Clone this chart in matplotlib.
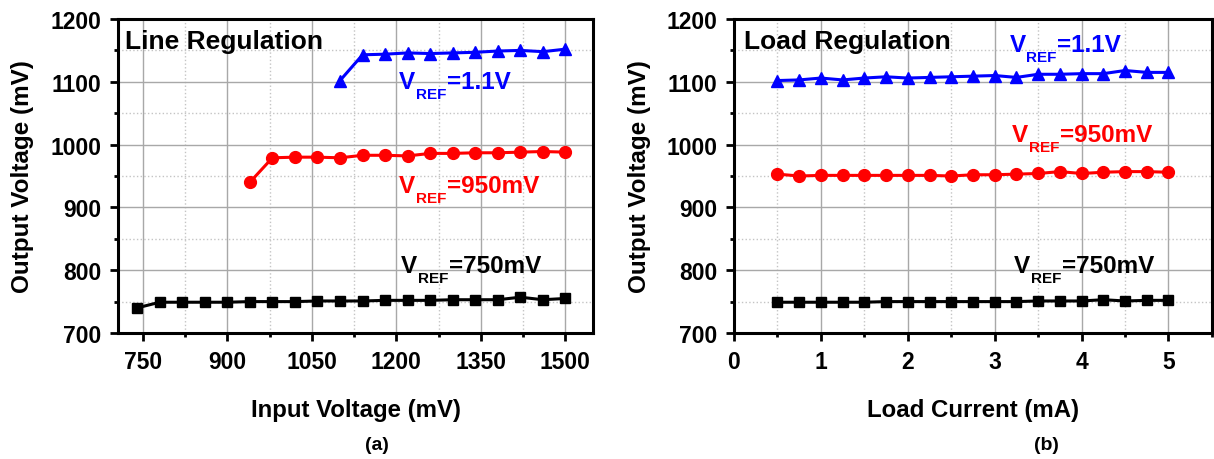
#!/usr/bin/env python3

import numpy as np
import matplotlib
matplotlib.use('Agg')
import matplotlib.pyplot as plt
from matplotlib.ticker import MultipleLocator

matplotlib.rcParams.update({'font.family': 'Liberation Sans',
                            'font.weight': 'bold'})

### (a) line regulation ###
vin_750 = [740, 780, 820, 860, 900, 940, 980, 1020, 1060, 1100,
           1140, 1180, 1220, 1260, 1300, 1340, 1380, 1420, 1460, 1500]
vout_750 = [740, 749, 749, 749, 749, 750, 750, 750, 751, 751,
            751, 752, 752, 752, 753, 753, 753, 757, 753, 755]
vin_950 = [940, 980, 1020, 1060, 1100, 1140, 1180, 1220, 1260, 1300,
           1340, 1380, 1420, 1460, 1500]
vout_950 = [940, 979, 980, 980, 979, 983, 983, 982, 986, 986,
            987, 987, 988, 989, 988]
vin_1100 = [1100, 1140, 1180, 1220, 1260, 1300, 1340, 1380, 1420, 1460, 1500]
vout_1100 = [1102, 1143, 1144, 1146, 1145, 1146, 1147, 1149, 1150, 1148, 1152]

### (b) load regulation ###
iload = [0.5, 0.75, 1.0, 1.25, 1.5, 1.75, 2.0, 2.25, 2.5, 2.75,
         3.0, 3.25, 3.5, 3.75, 4.0, 4.25, 4.5, 4.75, 5.0]
load_750 = [749, 749, 749, 749, 749, 750, 750, 750, 750, 750,
            750, 750, 751, 751, 751, 753, 751, 752, 752]
load_950 = [953, 950, 951, 951, 951, 951, 951, 951, 950, 952,
            952, 953, 954, 957, 954, 956, 957, 957, 956]
load_1100 = [1102, 1103, 1106, 1103, 1106, 1108, 1106, 1107, 1108, 1109,
             1110, 1107, 1112, 1112, 1113, 1113, 1118, 1115, 1115]


def style_axes(ax):
    '''spines, ticks and grid like the Origin-style original'''
    for s in ax.spines.values():
        s.set_linewidth(2.2)
    ax.tick_params(which='major', direction='out', length=6, width=2,
                   labelsize=16.5, pad=6)
    ax.tick_params(which='minor', direction='out', length=3, width=2)
    ax.grid(which='major', color='#a8a8a8', linestyle='-', linewidth=1)
    ax.grid(which='minor', color='#c4c4c4', linestyle=':', linewidth=1)
    ax.set_axisbelow(True)
    ax.set_ylim(700, 1200)
    ax.yaxis.set_major_locator(MultipleLocator(100))
    ax.yaxis.set_minor_locator(MultipleLocator(50))
    ax.set_ylabel('Output Voltage (mV)', fontsize=17.5, fontweight='bold')
    ax.yaxis.label.set_va('center')


def vref(ax, x, y, val, c):
    '''V with a dropped REF subscript, then =value'''
    t1 = ax.text(x, y, 'V', color=c, fontsize=17.5, fontweight='bold',
                 va='baseline', ha='left')
    t2 = ax.annotate('REF', xy=(1, 0), xycoords=t1, xytext=(0.5, -3.5),
                     textcoords='offset points', color=c, fontsize=11,
                     fontweight='bold', va='baseline', ha='left')
    ax.annotate('=' + val, xy=(1, 0), xycoords=(t2, t1), xytext=(0.5, 0),
                textcoords='offset points', color=c, fontsize=17.5,
                fontweight='bold', va='bottom', ha='left')


fig = plt.figure(figsize=(12.14, 4.6), dpi=100)

ax1 = fig.add_axes([0.0972, 0.2739, 0.3913, 0.6826])
ax1.plot(vin_750, vout_750, c='black', lw=2.2, marker='s', ms=7.5)
ax1.plot(vin_950, vout_950, c='red', lw=2.2, marker='o', ms=8.5)
ax1.plot(vin_1100, vout_1100, c='blue', lw=2.2, marker='^', ms=9)
style_axes(ax1)
ax1.set_xlim(706, 1549)
ax1.xaxis.set_major_locator(MultipleLocator(150))
ax1.xaxis.set_minor_locator(MultipleLocator(75))
ax1.set_xlabel('Input Voltage (mV)', fontsize=17.3, fontweight='bold')
ax1.xaxis.set_label_coords(0.5, -0.207)
ax1.yaxis.set_label_coords(-0.202, 0.5)
ax1.text(0.015, 0.93, 'Line Regulation', transform=ax1.transAxes,
         fontsize=19, fontweight='bold', va='center')
vref(ax1, 1205, 1090, '1.1V', 'blue')
vref(ax1, 1205, 925, '950mV', 'red')
vref(ax1, 1208, 797, '750mV', 'black')

ax2 = fig.add_axes([0.6046, 0.2739, 0.3937, 0.6826])
ax2.plot(iload, load_750, c='black', lw=2.2, marker='s', ms=7.5)
ax2.plot(iload, load_950, c='red', lw=2.2, marker='o', ms=8.5)
ax2.plot(iload, load_1100, c='blue', lw=2.2, marker='^', ms=9)
style_axes(ax2)
ax2.set_xlim(0, 5.5)
ax2.xaxis.set_major_locator(MultipleLocator(1))
ax2.xaxis.set_minor_locator(MultipleLocator(0.5))
ax2.set_xlabel('Load Current (mA)', fontsize=17.3, fontweight='bold')
ax2.xaxis.set_label_coords(0.5, -0.207)
ax2.yaxis.set_label_coords(-0.197, 0.5)
ax2.text(0.02, 0.93, 'Load Regulation', transform=ax2.transAxes,
         fontsize=19, fontweight='bold', va='center')
vref(ax2, 3.17, 1149, '1.1V', 'blue')
vref(ax2, 3.2, 1006, '950mV', 'red')
vref(ax2, 3.22, 797, '750mV', 'black')

fig.text(377/1214, 1 - 446/460, '(a)', fontsize=14, fontweight='bold',
         ha='center', va='center')
fig.text(1046/1214, 1 - 446/460, '(b)', fontsize=14, fontweight='bold',
         ha='center', va='center')

plt.savefig('out.png', dpi=100)
